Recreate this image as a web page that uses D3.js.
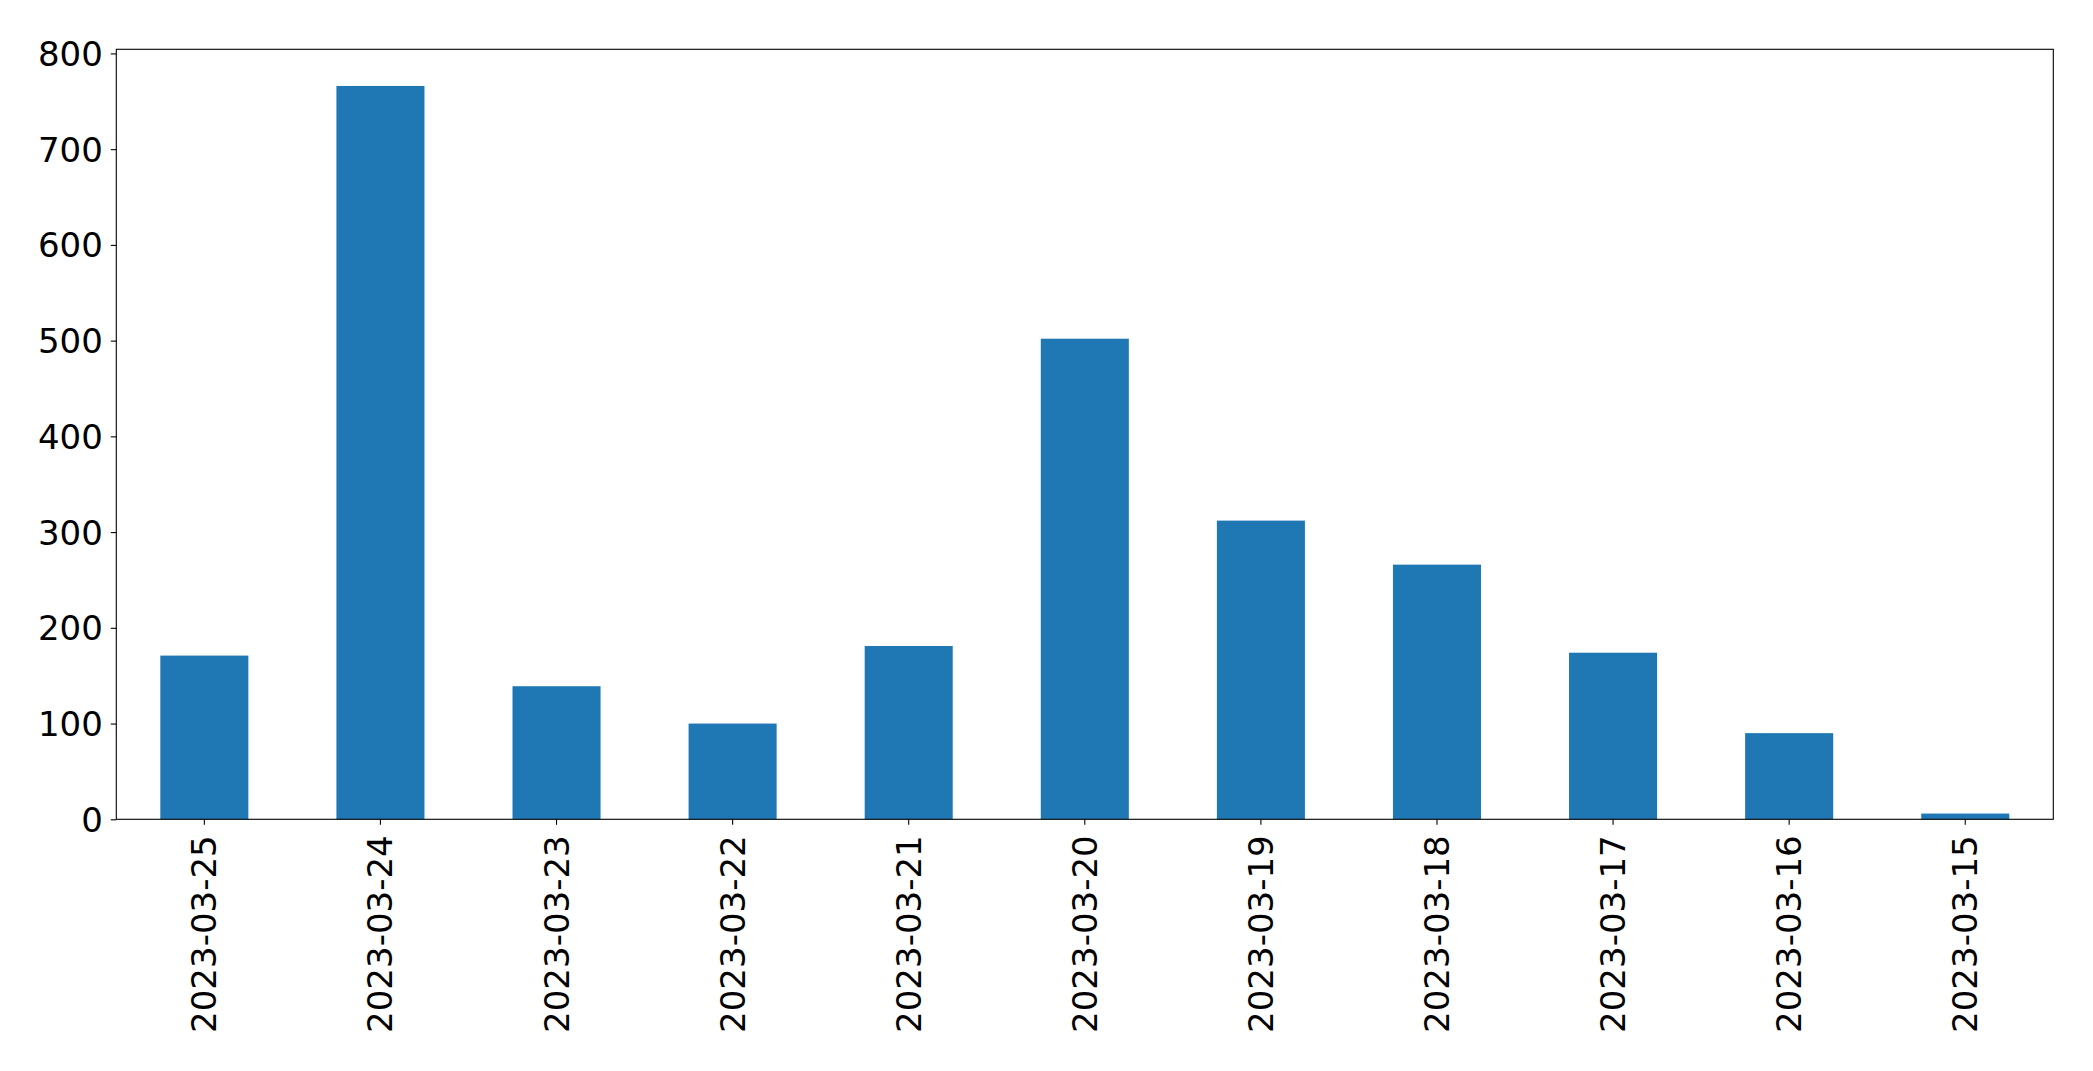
<!DOCTYPE html>
<html>
<head>
<meta charset="utf-8">
<script src="https://cdn.jsdelivr.net/npm/d3@7"></script>
<style>
  html, body { margin: 0; padding: 0; background: #fff; }
  svg { display: block; }
  text { font-family: "DejaVu Sans", sans-serif; fill: #000; }
</style>
</head>
<body>
<svg id="chart" width="2093" height="1071"></svg>
<script>
const categories = ["2023-03-25","2023-03-24","2023-03-23","2023-03-22","2023-03-21","2023-03-20","2023-03-19","2023-03-18","2023-03-17","2023-03-16","2023-03-15"];
const values = [171, 766, 139, 100, 181, 502, 312, 266, 174, 90, 6];
const yTicks = [0, 100, 200, 300, 400, 500, 600, 700, 800];

const W = 2093, H = 1071;
const margin = { left: 116.3, right: W - 2053.3, top: 49.3, bottom: H - 819.3 };
const svg = d3.select("#chart");

const x = d3.scaleBand()
  .domain(categories)
  .range([margin.left, W - margin.right])
  .paddingInner(0.5)
  .paddingOuter(0.25);

const yMax = d3.max(values) * 1.05;
const y = d3.scaleLinear()
  .domain([0, yMax])
  .range([H - margin.bottom, margin.top]);

// bars
svg.append("g")
  .selectAll("rect")
  .data(values)
  .join("rect")
  .attr("x", (d, i) => x(categories[i]))
  .attr("width", x.bandwidth())
  .attr("y", d => y(d))
  .attr("height", d => y(0) - y(d))
  .attr("fill", "#1f77b4");

// y axis
const yAxis = d3.axisLeft(y).tickValues(yTicks).tickSize(5.5).tickPadding(8).tickFormat(d3.format("d"));
const gy = svg.append("g").attr("transform", `translate(${margin.left},0)`).call(yAxis);
gy.select(".domain").remove();
gy.selectAll(".tick line").attr("stroke", "#000").attr("stroke-width", 1.1);
gy.selectAll(".tick text")
  .attr("font-size", 34)
  .attr("font-family", "DejaVu Sans, sans-serif")
  .attr("fill", "#000")
  .attr("dy", null)
  .attr("dominant-baseline", "central");

// x axis
const xAxis = d3.axisBottom(x).tickSize(5.5).tickPadding(0);
const gx = svg.append("g").attr("transform", `translate(0,${H - margin.bottom})`).call(xAxis);
gx.select(".domain").remove();
gx.selectAll(".tick line").attr("stroke", "#000").attr("stroke-width", 1.1);
gx.selectAll(".tick text")
  .attr("font-size", 34)
  .attr("font-family", "DejaVu Sans, sans-serif")
  .attr("fill", "#000")
  .attr("y", null)
  .attr("dy", null)
  .attr("text-anchor", "end")
  .attr("dominant-baseline", "central")
  .attr("transform", "translate(0,16) rotate(-90)");

// frame
svg.append("rect")
  .attr("x", margin.left)
  .attr("y", margin.top)
  .attr("width", W - margin.left - margin.right)
  .attr("height", H - margin.top - margin.bottom)
  .attr("fill", "none")
  .attr("stroke", "#000")
  .attr("stroke-width", 1.1);
</script>
</body>
</html>
